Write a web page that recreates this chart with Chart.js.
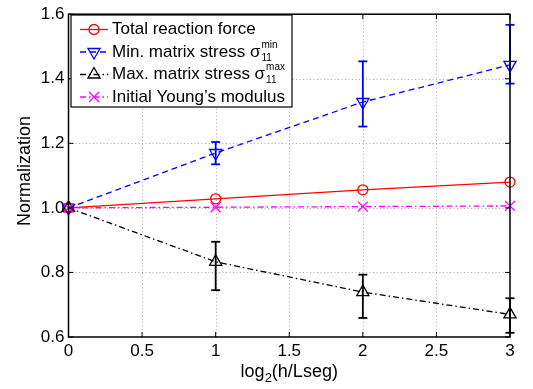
<!DOCTYPE html>
<html>
<head>
<meta charset="utf-8">
<script src="https://cdn.jsdelivr.net/npm/chart.js@4.4.0/dist/chart.umd.min.js"></script>
<style>
  html, body { margin: 0; padding: 0; background: #fff; }
  canvas { display: block; }
</style>
</head>
<body>
<canvas id="chart" width="533" height="389"></canvas>
<script>
// ------------------------------------------------------------------
// Data
// ------------------------------------------------------------------
const xValues       = [0, 1, 2, 3];
const reactionForce = [1.0, 1.028, 1.056, 1.080];
const minStress     = [1.0, 1.170, 1.328, 1.443];
const minStressLow  = [1.0, 1.135, 1.252, 1.385];
const minStressHigh = [1.0, 1.204, 1.454, 1.567];
const maxStress     = [1.0, 0.833, 0.739, 0.670];
const maxStressLow  = [1.0, 0.745, 0.659, 0.613];
const maxStressHigh = [1.0, 0.895, 0.793, 0.720];
const youngModulus  = [1.0, 1.002, 1.004, 1.006];

const xTicks = [0, 0.5, 1, 1.5, 2, 2.5, 3];
const yTicks = [0.6, 0.8, 1.0, 1.2, 1.4, 1.6];

const FONT = "'Liberation Sans', Arial, Helvetica, sans-serif";

const RED     = '#ff0000';
const BLUE    = '#0000ff';
const BLACK   = '#000000';
const MAGENTA = '#ff00ff';

const DASHED   = [6, 4];
const DASH_DOT = [6, 3, 1.5, 3];

/** Legend rows; the sigma rows carry a stacked super/subscript. */
const legendItems = [
  { text: 'Total reaction force', color: RED, dash: [], marker: 'circle' },
  { text: 'Min. matrix stress \u03c3', sup: 'min', sub: '11', color: BLUE, dash: DASHED, marker: 'triDown' },
  { text: 'Max. matrix stress \u03c3', sup: 'max', sub: '11', color: BLACK, dash: DASH_DOT, marker: 'triUp' },
  { text: 'Initial Young\u2019s modulus', color: MAGENTA, dash: DASH_DOT, marker: 'x' },
];

// ------------------------------------------------------------------
// Helpers
// ------------------------------------------------------------------
function toPoints(ys) {
  return xValues.map((x, i) => ({ x, y: ys[i] }));
}

function strokeLine(ctx, x1, y1, x2, y2) {
  ctx.beginPath();
  ctx.moveTo(x1, y1);
  ctx.lineTo(x2, y2);
  ctx.stroke();
}

function drawMarker(ctx, kind, x, y) {
  ctx.beginPath();
  if (kind === 'circle') {
    ctx.arc(x, y, 5, 0, Math.PI * 2);
  } else if (kind === 'triUp' || kind === 'triDown') {
    const s = kind === 'triUp' ? 1 : -1;
    ctx.moveTo(x, y - s * 7);
    ctx.lineTo(x + 6.06, y + s * 3.5);
    ctx.lineTo(x - 6.06, y + s * 3.5);
    ctx.closePath();
  } else if (kind === 'x') {
    ctx.moveTo(x - 5, y - 5); ctx.lineTo(x + 5, y + 5);
    ctx.moveTo(x - 5, y + 5); ctx.lineTo(x + 5, y - 5);
  }
  ctx.stroke();
}

function drawErrorBars(ctx, xs, ys, low, high, color) {
  ctx.strokeStyle = color;
  ctx.lineWidth = 1.8;
  ctx.setLineDash([]);
  xValues.forEach((v, i) => {
    if (high[i] === low[i]) return;
    const px = xs.getPixelForValue(v);
    const pl = ys.getPixelForValue(low[i]);
    const ph = ys.getPixelForValue(high[i]);
    strokeLine(ctx, px, pl, px, ph);
    strokeLine(ctx, px - 4.5, pl, px + 4.5, pl);
    strokeLine(ctx, px - 4.5, ph, px + 4.5, ph);
  });
}

// ------------------------------------------------------------------
// MATLAB-style axes: dotted grid, box, inner ticks, legend, titles
// ------------------------------------------------------------------
const matlabAxes = {
  id: 'matlabAxes',

  beforeDatasetsDraw(chart) {
    const { ctx, chartArea: a, scales: { x, y } } = chart;
    ctx.save();
    ctx.strokeStyle = '#a8a8a8';
    ctx.lineWidth = 1;
    ctx.setLineDash([1, 2.5]);
    xTicks.slice(1, -1).forEach(t => {
      const px = Math.round(x.getPixelForValue(t)) + 0.5;
      strokeLine(ctx, px, a.top, px, a.bottom);
    });
    yTicks.slice(1, -1).forEach(t => {
      const py = Math.round(y.getPixelForValue(t)) + 0.5;
      strokeLine(ctx, a.left, py, a.right, py);
    });
    ctx.restore();
  },

  afterDatasetsDraw(chart) {
    const { ctx, chartArea: a, scales: { x, y } } = chart;
    ctx.save();

    drawErrorBars(ctx, x, y, minStressLow, minStressHigh, BLUE);
    drawErrorBars(ctx, x, y, maxStressLow, maxStressHigh, BLACK);

    // box and inner ticks
    ctx.strokeStyle = '#000';
    ctx.lineWidth = 1.5;
    ctx.setLineDash([]);
    ctx.strokeRect(a.left, a.top, a.right - a.left, a.bottom - a.top);
    ctx.lineWidth = 1;
    xTicks.forEach(t => {
      const px = x.getPixelForValue(t);
      strokeLine(ctx, px, a.bottom, px, a.bottom - 5);
      strokeLine(ctx, px, a.top, px, a.top + 5);
    });
    yTicks.forEach(t => {
      const py = y.getPixelForValue(t);
      strokeLine(ctx, a.left, py, a.left + 5, py);
      strokeLine(ctx, a.right, py, a.right - 5, py);
    });

    // legend
    const box = { left: 71, top: 15, right: 292, bottom: 107 };
    ctx.fillStyle = '#fff';
    ctx.fillRect(box.left, box.top, box.right - box.left, box.bottom - box.top);
    ctx.lineWidth = 1.2;
    ctx.strokeRect(box.left, box.top, box.right - box.left, box.bottom - box.top);
    legendItems.forEach((item, i) => {
      const cy = 29.5 + i * 22.5;
      ctx.strokeStyle = item.color;
      ctx.lineWidth = 1.3;
      ctx.setLineDash(item.dash);
      strokeLine(ctx, 80, cy, 108, cy);
      ctx.setLineDash([]);
      drawMarker(ctx, item.marker, 94, cy);

      ctx.fillStyle = '#000';
      ctx.textAlign = 'left';
      ctx.textBaseline = 'middle';
      ctx.font = '17px ' + FONT;
      ctx.fillText(item.text, 112, cy);
      if (item.sup) {
        const sx = 112 + ctx.measureText(item.text).width + 1;
        ctx.font = '10px ' + FONT;
        ctx.fillText(item.sup, sx, cy - 7);
        ctx.fillText(item.sub, sx, cy + 6);
      }
    });

    // axis titles
    ctx.fillStyle = '#000';
    ctx.textBaseline = 'alphabetic';
    const main = 'log', rest = '(h/Lseg)';
    ctx.font = '18px ' + FONT;
    const wMain = ctx.measureText(main).width;
    const wRest = ctx.measureText(rest).width;
    ctx.font = '13px ' + FONT;
    const wSub = ctx.measureText('2').width;
    const cx = (a.left + a.right) / 2;
    const tx = cx - (wMain + wSub + wRest) / 2;
    ctx.textAlign = 'left';
    ctx.font = '18px ' + FONT;
    ctx.fillText(main, tx, 377);
    ctx.font = '13px ' + FONT;
    ctx.fillText('2', tx + wMain, 382);
    ctx.font = '18px ' + FONT;
    ctx.fillText(rest, tx + wMain + wSub, 377);

    ctx.translate(25, 171);
    ctx.rotate(-Math.PI / 2);
    ctx.textAlign = 'center';
    ctx.textBaseline = 'middle';
    ctx.fillText('Normalization', 0, 0);

    ctx.restore();
  },
};

// ------------------------------------------------------------------
// Chart
// ------------------------------------------------------------------
function series(label, ys, color, dash, pointStyle, radius, rotation, order) {
  return {
    label,
    data: toPoints(ys),
    borderColor: color,
    borderWidth: 1.3,
    borderDash: dash,
    pointStyle,
    pointRadius: radius,
    pointRotation: rotation,
    pointBorderColor: color,
    pointBackgroundColor: 'rgba(0,0,0,0)',
    pointBorderWidth: 1.3,
    fill: false,
    tension: 0,
    clip: false,
    order,
  };
}

new Chart(document.getElementById('chart'), {
  type: 'line',
  data: {
    datasets: [
      series('Total reaction force', reactionForce, RED, [], 'circle', 5, 0, 4),
      series('Min. matrix stress', minStress, BLUE, DASHED, 'triangle', 7, 180, 3),
      series('Max. matrix stress', maxStress, BLACK, DASH_DOT, 'triangle', 7, 0, 2),
      series('Initial Young\u2019s modulus', youngModulus, MAGENTA, DASH_DOT, 'crossRot', 7, 0, 1),
    ],
  },
  options: {
    responsive: false,
    animation: false,
    devicePixelRatio: 1,
    layout: { padding: { left: 0, right: 23, top: 12, bottom: 0 } },
    plugins: { legend: { display: false }, tooltip: { enabled: false } },
    scales: {
      x: {
        type: 'linear',
        min: 0,
        max: 3,
        afterFit: scale => { scale.height = 52; },
        afterBuildTicks: scale => { scale.ticks = xTicks.map(value => ({ value })); },
        grid: { display: false, drawTicks: false },
        border: { display: false },
        ticks: {
          color: '#000',
          padding: 4,
          maxRotation: 0,
          font: { family: FONT, size: 17 },
          callback: v => String(v),
        },
      },
      y: {
        type: 'linear',
        min: 0.6,
        max: 1.6,
        afterFit: scale => { scale.width = 68.5; },
        afterBuildTicks: scale => { scale.ticks = yTicks.map(value => ({ value })); },
        grid: { display: false, drawTicks: false },
        border: { display: false },
        ticks: {
          color: '#000',
          padding: 4,
          font: { family: FONT, size: 17 },
          callback: v => v.toFixed(1),
        },
      },
    },
  },
  plugins: [matlabAxes],
});
</script>
</body>
</html>
